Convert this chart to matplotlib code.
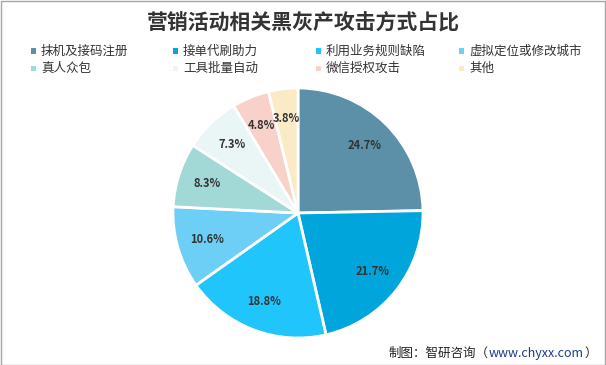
import matplotlib
matplotlib.use("Agg")
import matplotlib.pyplot as plt
from matplotlib.patches import Rectangle

plt.rcParams['font.family'] = ['Noto Sans CJK SC', 'DejaVu Sans']

categories = ["抹机及接码注册", "接单代刷助力", "利用业务规则缺陷", "虚拟定位或修改城市",
              "真人众包", "工具批量自动", "微信授权攻击", "其他"]
values = [24.7, 21.7, 18.8, 10.6, 8.3, 7.3, 4.8, 3.8]
colors = ["#5B90A8", "#00A5DC", "#1FC5FB", "#6DCFF6", "#A2D8D6", "#EAF5F6", "#F8D2CA", "#FBEAC6"]
title = "营销活动相关黑灰产攻击方式占比"
source_a = "制图：智研咨询（"
source_b = "www.chyxx.com"
source_c = "）"

W, H = 606, 365
fig = plt.figure(figsize=(W/100, H/100), dpi=100)
fig.patch.set_facecolor("white")
fig.add_artist(Rectangle((0.5/W, 0.5/H), 1-1.5/W, 1-1.5/H, transform=fig.transFigure,
                         fill=False, edgecolor="#A6A6A6", linewidth=1))

cx, cy, r = 298, 213, 125
ax = fig.add_axes([(cx-r)/W, (H-cy-r)/H, 2*r/W, 2*r/H])
wedges, texts, autotexts = ax.pie(values, colors=colors, startangle=90, counterclock=False,
                                  autopct=lambda p: f"{p:.1f}%", pctdistance=0.76,
                                  wedgeprops=dict(edgecolor="white", linewidth=2),
                                  textprops=dict(fontsize=8, fontweight="bold", color="#333333"))
ax.set_xlim(-1, 1); ax.set_ylim(-1, 1)
ax.set_aspect("equal")
ax.axis("off")

fig.text(0.5, 1-23/H, title, ha="center", va="center", fontsize=15, fontweight="bold", color="#333333")

col_x = [31, 173, 316, 459]
row_y = [51, 68]
for i, (c, col) in enumerate(zip(categories, colors)):
    x = col_x[i % 4]; y = row_y[i // 4]
    fig.add_artist(Rectangle((x/W, (H-y-2.5)/H), 5/W, 5/H, transform=fig.transFigure,
                             facecolor=col, edgecolor="none"))
    fig.text((x+10)/W, 1-y/H, c, ha="left", va="center", fontsize=9, color="#333333")

t1 = fig.text(389/W, 1-353/H, source_a, ha="left", va="center", fontsize=9, color="#222222")
fig.canvas.draw()
bb = t1.get_window_extent()
t2 = fig.text(bb.x1/W, 1-353/H, source_b, ha="left", va="center", fontsize=9, color="#1F3A8A")
fig.canvas.draw()
bb2 = t2.get_window_extent()
fig.text(bb2.x1/W, 1-353/H, source_c, ha="left", va="center", fontsize=9, color="#222222")

fig.savefig("out.png", dpi=100)
